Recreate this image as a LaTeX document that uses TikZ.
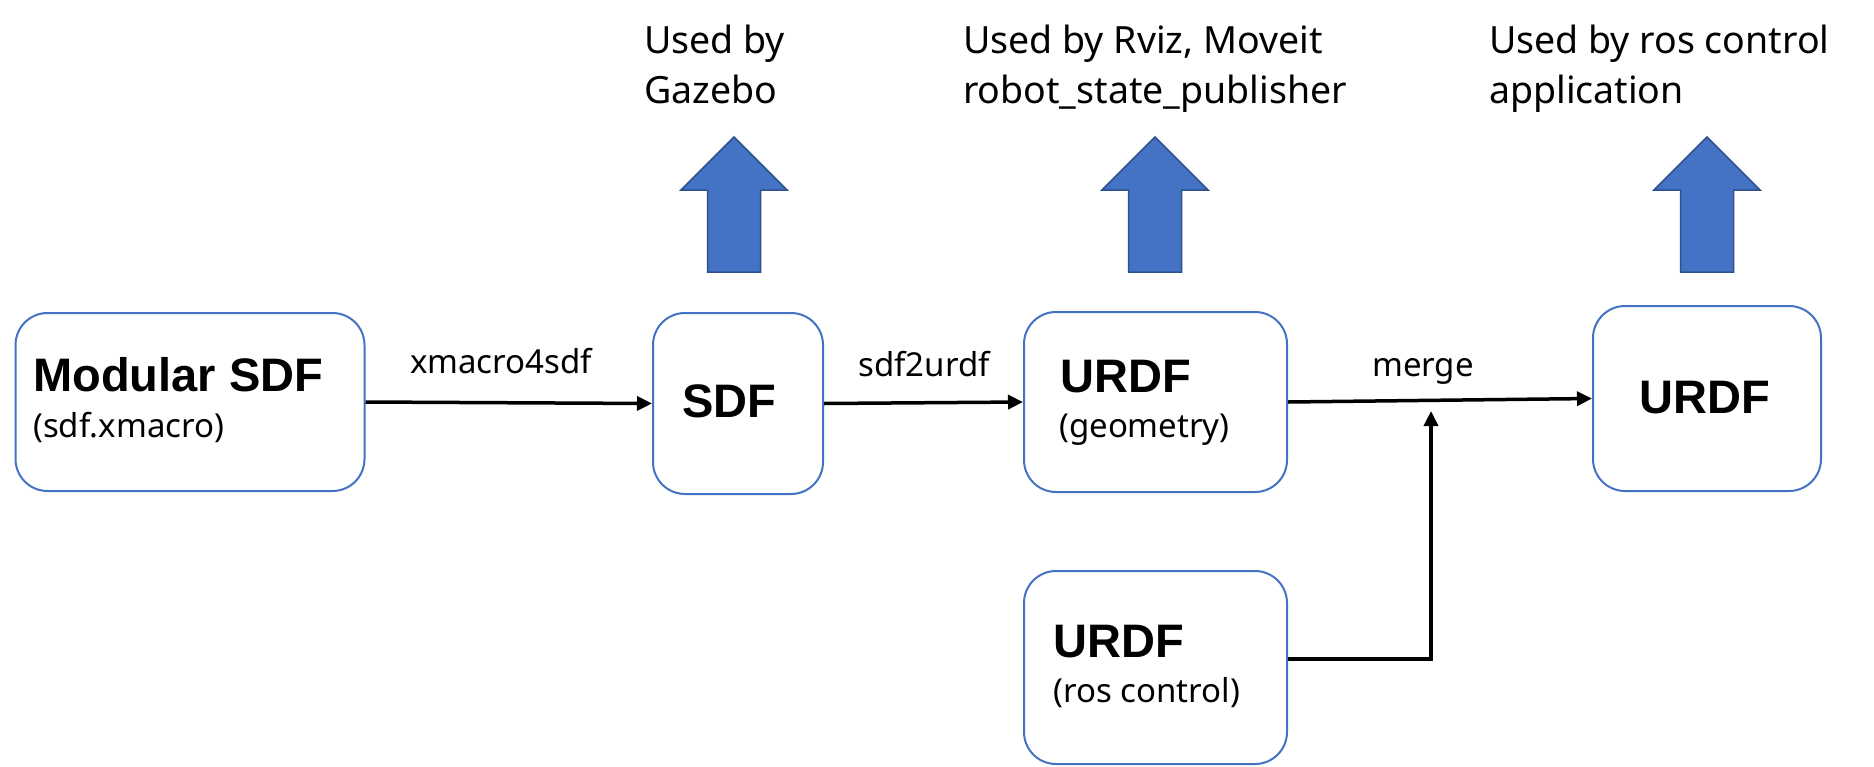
\documentclass[tikz,border=0pt]{standalone}
\usepackage{fontspec}
\setmainfont{Noto Sans}
\newfontfamily\boldfam{Liberation Sans}
\usetikzlibrary{arrows.meta,calc}
\definecolor{boxblue}{HTML}{4472C4}
\definecolor{darkblue}{HTML}{2F528F}
\newcommand\blockup[1]{\draw[blockarrow] (#1-26.5,272) -- (#1-26.5,190) -- (#1-53,190) -- (#1,137) -- (#1+53,190) -- (#1+26.5,190) -- (#1+26.5,272) -- cycle;}
\begin{document}
\begin{tikzpicture}[x=1pt,y=-1pt,
 box/.style={draw=boxblue, line width=2pt, rounded corners=32pt, fill=white, inner sep=0pt},
 conn/.style={line width=3.5pt, line join=miter, -{Triangle[length=15pt,width=14pt]}},
 bigtxt/.style={font=\boldfam\bfseries\fontsize{47}{50}\selectfont, inner sep=0pt, anchor=base west},
 subtxt/.style={font=\fontsize{33}{40}\selectfont, inner sep=0pt, anchor=base west},
 lbl/.style={font=\fontsize{33}{40}\selectfont, inner sep=0pt, anchor=base},
 usetxt/.style={font=\fontsize{37.5}{50}\selectfont, inner sep=0pt, anchor=base west},
 blockarrow/.style={fill=boxblue, draw=darkblue, line width=1.5pt, line join=miter}
]
\useasboundingbox (0,0) rectangle (1874,766);
\fill[white] (0,0) rectangle (1874,766);

% boxes
\node[box, minimum width=349pt, minimum height=178pt] (b1) at (190,402) {};
\node[box, minimum width=170pt, minimum height=181pt] (b2) at (738,403.5) {};
\node[box, minimum width=263pt, minimum height=180pt] (b3) at (1155.5,402) {};
\node[box, minimum width=263pt, minimum height=193pt] (b4) at (1155.5,667.5) {};
\node[box, minimum width=228pt, minimum height=185pt] (b5) at (1707,398.5) {};

% box texts
\node[bigtxt] (t1a) at (33,391) {Modular SDF};
\node[subtxt] (t1b) at (33,437) {(sdf.xmacro)};
\node[bigtxt, anchor=base] (t2) at (729,417) {SDF};
\node[bigtxt] (t3a) at (1060,392) {URDF};
\node[subtxt] (t3b) at (1059,437) {(geometry)};
\node[bigtxt] (t4a) at (1053,657) {URDF};
\node[subtxt] (t4b) at (1053,702) {(ros control)};
\node[bigtxt, anchor=base] (t5) at (1705,413) {URDF};

% connectors
\draw[conn] (b1.east) -- (b2.west);
\draw[conn] (b2.east) -- (b3.west);
\draw[conn] (b3.east) -- (b5.west);
\coordinate (mergein) at (1431,411);
\draw[conn] ($(b4.east)+(0,-8.5)$) -| (mergein);

% connector labels
\node[lbl] (l1) at (501,373) {xmacro4sdf};
\node[lbl] (l2) at (924,376) {sdf2urdf};
\node[lbl] (l3) at (1423,376) {merge};

% block arrows
\blockup{734}
\blockup{1155}
\blockup{1707}

% usage texts
\node[usetxt] (u1a) at (644,53) {Used by};
\node[usetxt] (u1b) at (644,103) {Gazebo};
\node[usetxt] (u2a) at (963,53) {Used by Rviz, Moveit};
\node[usetxt] (u2b) at (963,103) {robot\_state\_publisher};
\node[usetxt] (u3a) at (1489,53) {Used by ros control};
\node[usetxt] (u3b) at (1489,103) {application};
\end{tikzpicture}
\end{document}
